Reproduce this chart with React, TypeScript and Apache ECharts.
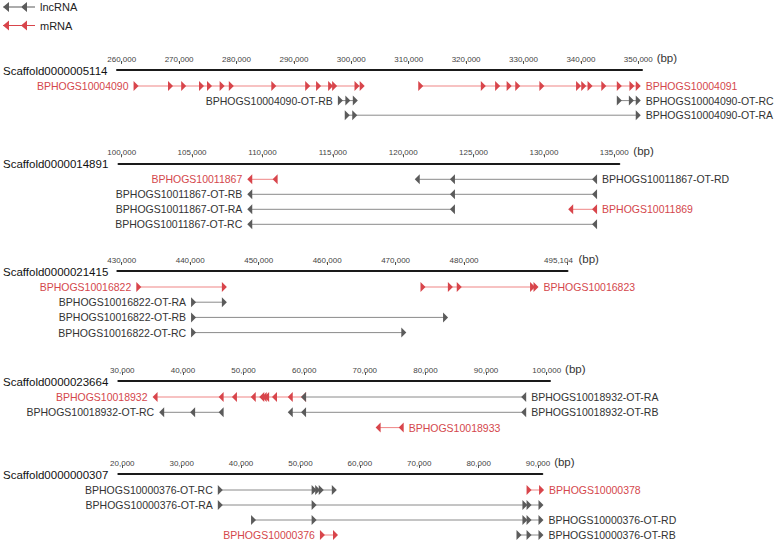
import React, { useEffect, useRef } from "react";
import * as echarts from "echarts";

// ---------- data ----------
const scaffolds = [
  "Scaffold0000005114",
  "Scaffold0000014891",
  "Scaffold0000021415",
  "Scaffold0000023664",
  "Scaffold0000000307",
];

const ticks1 = [260000, 270000, 280000, 290000, 300000, 310000, 320000, 330000, 340000, 350000];
const ticks2 = [100000, 105000, 110000, 115000, 120000, 125000, 130000, 135000];
const ticks3 = [430000, 440000, 450000, 460000, 470000, 480000, 495104];
const ticks4 = [30000, 40000, 50000, 60000, 70000, 80000, 90000, 100000];
const ticks5 = [20000, 30000, 40000, 50000, 60000, 70000, 80000, 90000];
const panelTicks = [ticks1, ticks2, ticks3, ticks4, ticks5];

// axis extents (bp)
const axisMin = [259180, 99772, 429360, 29340, 19327];
const axisMax = [350650, 135356, 495104, 100544, 90724];

// transcripts: name, panel, row, strand, kind, label side, exon marks (bp)
type Tx = { name: string; panel: number; row: number; strand: "+" | "-"; kind: "lnc" | "m"; side: "left" | "right"; marks: number[] };

const tx1: Tx[] = [
  { name: "BPHOGS10004090", panel: 0, row: 0, strand: "+", kind: "m", side: "left",
    marks: [262500, 268500, 270800, 273900, 275300, 277500, 279100, 286500, 292400, 294300, 296400, 297100, 301000, 301900] },
  { name: "BPHOGS10004091", panel: 0, row: 0, strand: "+", kind: "m", side: "right",
    marks: [312100, 323000, 325500, 327500, 329000, 333200, 339600, 340500, 341600, 344000, 346700, 348900, 350000] },
  { name: "BPHOGS10004090-OT-RB", panel: 0, row: 1, strand: "+", kind: "lnc", side: "left",
    marks: [298100, 299400, 300700] },
  { name: "BPHOGS10004090-OT-RC", panel: 0, row: 1, strand: "+", kind: "lnc", side: "right",
    marks: [346700, 348800, 350000] },
  { name: "BPHOGS10004090-OT-RA", panel: 0, row: 2, strand: "+", kind: "lnc", side: "right",
    marks: [299300, 300600, 350000] },
];

const tx2: Tx[] = [
  { name: "BPHOGS10011867", panel: 1, row: 0, strand: "-", kind: "m", side: "left", marks: [109100, 110900] },
  { name: "BPHOGS10011867-OT-RD", panel: 1, row: 0, strand: "-", kind: "lnc", side: "right", marks: [121000, 123500, 133600] },
  { name: "BPHOGS10011867-OT-RB", panel: 1, row: 1, strand: "-", kind: "lnc", side: "left", marks: [109100, 123500, 133600] },
  { name: "BPHOGS10011867-OT-RA", panel: 1, row: 2, strand: "-", kind: "lnc", side: "left", marks: [109100, 123500] },
  { name: "BPHOGS10011869", panel: 1, row: 2, strand: "-", kind: "m", side: "right", marks: [131900, 133600] },
  { name: "BPHOGS10011867-OT-RC", panel: 1, row: 3, strand: "-", kind: "lnc", side: "left", marks: [109100, 133600] },
];

const tx3: Tx[] = [
  { name: "BPHOGS10016822", panel: 2, row: 0, strand: "+", kind: "m", side: "left", marks: [432500, 445000] },
  { name: "BPHOGS10016823", panel: 2, row: 0, strand: "+", kind: "m", side: "right", marks: [474000, 478000, 479300, 490000, 490500] },
  { name: "BPHOGS10016822-OT-RA", panel: 2, row: 1, strand: "+", kind: "lnc", side: "left", marks: [440500, 445000] },
  { name: "BPHOGS10016822-OT-RB", panel: 2, row: 2, strand: "+", kind: "lnc", side: "left", marks: [440500, 477300] },
  { name: "BPHOGS10016822-OT-RC", panel: 2, row: 3, strand: "+", kind: "lnc", side: "left", marks: [440500, 471200] },
];

const tx4: Tx[] = [
  { name: "BPHOGS10018932", panel: 3, row: 0, strand: "-", kind: "m", side: "left",
    marks: [35400, 46300, 48500, 51600, 53000, 53400, 53800, 55100, 57700, 59900] },
  { name: "BPHOGS10018932-OT-RA", panel: 3, row: 0, strand: "-", kind: "lnc", side: "right", marks: [59900, 96200] },
  { name: "BPHOGS10018932-OT-RC", panel: 3, row: 1, strand: "-", kind: "lnc", side: "left", marks: [36500, 41600, 46300] },
  { name: "BPHOGS10018932-OT-RB", panel: 3, row: 1, strand: "-", kind: "lnc", side: "right", marks: [57700, 59900, 96200] },
  { name: "BPHOGS10018933", panel: 3, row: 2, strand: "-", kind: "m", side: "right", marks: [72200, 76000] },
];

const tx5: Tx[] = [
  { name: "BPHOGS10000376-OT-RC", panel: 4, row: 0, strand: "+", kind: "lnc", side: "left", marks: [36500, 52300, 52900, 53500, 55700] },
  { name: "BPHOGS10000378", panel: 4, row: 0, strand: "+", kind: "m", side: "right", marks: [88500, 90600] },
  { name: "BPHOGS10000376-OT-RA", panel: 4, row: 1, strand: "+", kind: "lnc", side: "left", marks: [36500, 52300, 87800, 88500, 90500] },
  { name: "BPHOGS10000376-OT-RD", panel: 4, row: 2, strand: "+", kind: "lnc", side: "right", marks: [42100, 52300, 87800, 88500, 90500] },
  { name: "BPHOGS10000376", panel: 4, row: 3, strand: "+", kind: "m", side: "left", marks: [53700, 55900] },
  { name: "BPHOGS10000376-OT-RB", panel: 4, row: 3, strand: "+", kind: "lnc", side: "right", marks: [86800, 88500, 90500] },
];

const legendNames = ["lncRNA", "mRNA"];

// ---------- layout / style ----------
const W = 778;
const H = 545;
const gridLeft = [117, 118.5, 117.3, 118.3, 118.3];
const gridRightEdge = [642, 619.3, 567.5, 550, 542.3];
const axisLineY = [70, 163.3, 271, 381, 474];
const rowSpacing = [14.6, 15, 15.2, 15.3, 15];
const rowOffset = 16;
const nameGap = [12, 14, 11, 15, 11];

const FONT = "'Liberation Sans', Arial, Helvetica, sans-serif";
const RED = "#d8454b";
const RED_LINE = "#ef8585";
const RED_TEXT = "#d4474c";
const GRAY = "#5b5b5b";
const GRAY_LINE = "#8a8a8a";
const GRAY_TEXT = "#333333";

const RIGHT_TRI = "path://M0,0L6,5L0,10Z";
const LEFT_TRI = "path://M6,0L0,5L6,10Z";
const LEGEND_ICON = "path://M0,5L6,0L6,10Z M18,5L24,0L24,10Z M0,4.55L32,4.55L32,5.45L0,5.45Z";

const fmt = (v: number) => String(Math.round(v)).replace(/\B(?=(\d{3})+(?!\d))/g, ",");

export default function App() {
  const ref = useRef<HTMLDivElement>(null);

  useEffect(() => {
    if (!ref.current) return;
    const chart = echarts.init(ref.current, undefined, { renderer: "svg" });

    const grids: any[] = [];
    const xAxes: any[] = [];
    const yAxes: any[] = [];
    for (let p = 0; p < 5; p++) {
      const s = rowSpacing[p];
      const off = rowOffset / s;
      grids.push({
        left: gridLeft[p],
        width: gridRightEdge[p] - gridLeft[p],
        top: axisLineY[p],
        height: (3 + off) * s,
        containLabel: false,
      });
      // thick scaffold line
      xAxes.push({
        type: "value",
        gridIndex: p,
        position: "top",
        min: axisMin[p],
        max: axisMax[p],
        axisLine: { show: true, onZero: false, lineStyle: { color: "#1a1a1a", width: 2 } },
        axisTick: { show: false },
        axisLabel: { show: false },
        splitLine: { show: false },
      });
      const maxTick = panelTicks[p][panelTicks[p].length - 1];
      const shiftLast = maxTick === axisMax[p] && maxTick % 1000 !== 0;
      // ticks + labels
      xAxes.push({
        type: "value",
        gridIndex: p,
        position: "top",
        offset: 6,
        min: axisMin[p],
        max: axisMax[p],
        name: "(bp)",
        nameLocation: "end",
        nameGap: nameGap[p],
        nameTextStyle: { fontSize: 11.5, color: "#333", fontFamily: FONT, verticalAlign: "bottom", padding: [0, 0, 0, 0] },
        axisLine: { show: false, onZero: false },
        axisTick: { show: true, customValues: panelTicks[p], length: 3, lineStyle: { color: "#555", width: 1 } },
        axisLabel: {
          show: true,
          customValues: panelTicks[p],
          fontSize: 8,
          color: "#444",
          fontFamily: FONT,
          margin: 1,
          formatter: (v: number) => (shiftLast && v === maxTick ? "{s|" + fmt(v) + "}" : fmt(v)),
          rich: { s: { fontSize: 8, color: "#444", fontFamily: FONT, padding: [0, 18, 0, 0] } },
        },
        splitLine: { show: false },
      });
      yAxes.push({
        type: "value",
        gridIndex: p,
        min: -off,
        max: 3,
        inverse: true,
        show: false,
      });
    }

    const all: Tx[] = [...tx1, ...tx2, ...tx3, ...tx4, ...tx5];
    // draw mRNA first so lncRNA marks sit on top where they coincide
    const ordered = [...all.filter((t) => t.kind === "m"), ...all.filter((t) => t.kind === "lnc")];
    const series: any[] = ordered.map((t) => {
      const isM = t.kind === "m";
      const n = t.marks.length;
      return {
        type: "line",
        name: isM ? "mRNA" : "lncRNA",
        xAxisIndex: 2 * t.panel,
        yAxisIndex: t.panel,
        data: t.marks.map((x, i) => {
          const labelled = t.side === "left" ? i === 0 : i === n - 1;
          const item: any = { value: [x, t.row] };
          if (labelled) item.label = { show: true, position: t.side, formatter: t.name };
          return item;
        }),
        symbol: t.strand === "+" ? RIGHT_TRI : LEFT_TRI,
        symbolSize: [5, 10],
        showSymbol: true,
        showAllSymbol: true,
        clip: false,
        silent: true,
        animation: false,
        lineStyle: { color: isM ? RED_LINE : GRAY_LINE, width: 1 },
        itemStyle: { color: isM ? RED : GRAY },
        label: { show: false, color: isM ? RED_TEXT : GRAY_TEXT, fontSize: 10.5, fontFamily: FONT, distance: 5 },
        emphasis: { disabled: true },
        z: isM ? 2 : 3,
      };
    });

    const graphic: any[] = scaffolds.map((name, p) => ({
      type: "text",
      x: 3,
      y: axisLineY[p] + 0.5,
      silent: true,
      style: { text: name, fontSize: 11.5, fontFamily: FONT, fill: "#111", verticalAlign: "middle", align: "left" },
    }));

    chart.setOption({
      animation: false,
      textStyle: { fontFamily: FONT },
      legend: {
        data: legendNames.map((n) => ({ name: n, icon: LEGEND_ICON })),
        orient: "vertical",
        left: 3,
        top: 1.5,
        padding: 0,
        itemWidth: 32,
        itemHeight: 10,
        itemGap: 7.5,
        selectedMode: false,
        textStyle: { fontSize: 11, color: "#222", fontFamily: FONT },
      },
      grid: grids,
      xAxis: xAxes,
      yAxis: yAxes,
      series,
      graphic,
    });

    return () => chart.dispose();
  }, []);

  return <div ref={ref} style={{ position: "fixed", left: 0, top: 0, width: W, height: H, background: "#fff" }} />;
}
